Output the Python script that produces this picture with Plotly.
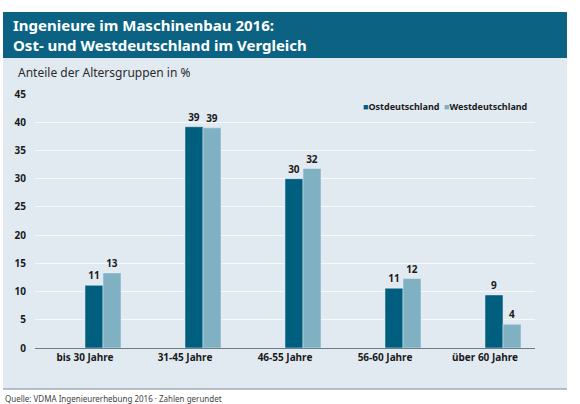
import plotly.graph_objects as go

categories = ["bis 30 Jahre", "31-45 Jahre", "46-55 Jahre", "56-60 Jahre", "über 60 Jahre"]
ost = [11.1, 39.2, 30.0, 10.6, 9.4]
west = [13.3, 39.0, 31.8, 12.3, 4.2]
y_ticks = [0, 5, 10, 15, 20, 25, 30, 35, 40, 45]

C_OST = "#005f7f"
C_WEST = "#7fb1c3"
C_HEAD = "#0b6282"
C_PANEL = "#e2eaf1"

# pixel helpers (plot area: x 35..535, y 94..348 in a 580x404 page)
L, R, T, B = 35, 45, 94, 56
PW, PH = 580 - L - R, 404 - T - B
def px(x): return (x - L) / PW
def py(y): return (404 - B - y) / PH

fig = go.Figure()
fig.add_trace(go.Bar(
    x=categories, y=ost, name="Ostdeutschland", marker_color=C_OST,
    offset=0.0, width=0.18,
    text=[f"{v:.0f}" for v in ost], textposition="outside",
    textfont=dict(size=10, color="#1a1a1a", family="Noto Sans", weight="bold"),
    cliponaxis=False, showlegend=False,
))
fig.add_trace(go.Bar(
    x=categories, y=west, name="Westdeutschland", marker_color=C_WEST,
    offset=0.18, width=0.18,
    text=[f"{v:.0f}" for v in west], textposition="outside",
    textfont=dict(size=10, color="#1a1a1a", family="Noto Sans", weight="bold"),
    cliponaxis=False, showlegend=False,
))

shapes = [
    dict(type="rect", xref="paper", yref="paper", x0=px(3), x1=px(567), y0=py(389), y1=py(58),
         fillcolor=C_PANEL, line_width=0, layer="below"),
    dict(type="rect", xref="paper", yref="paper", x0=px(3), x1=px(567), y0=py(58), y1=py(12),
         fillcolor=C_HEAD, line_width=0, layer="below"),
    dict(type="line", xref="paper", yref="paper", x0=px(3), x1=px(567), y0=py(389), y1=py(389),
         line=dict(color="#7d8a94", width=1.2)),
]

annotations = [
    dict(xref="paper", yref="paper", x=px(11), y=py(35), xanchor="left", yanchor="middle",
         text="Ingenieure im Maschinenbau 2016:<br>Ost- und Westdeutschland im Vergleich",
         showarrow=False, align="left",
         font=dict(family="Noto Sans", size=15, color="white", weight="bold")),
    dict(xref="paper", yref="paper", x=px(16), y=py(73), xanchor="left", yanchor="middle",
         text="Anteile der Altersgruppen in %", showarrow=False,
         font=dict(family="Noto Sans", size=12, color="#2a2a2a")),
    dict(xref="paper", yref="paper", x=px(361), y=py(106), xanchor="left", yanchor="middle",
         text=f"<span style='color:{C_OST}'>■</span>Ostdeutschland  "
              f"<span style='color:{C_WEST}'>■</span>Westdeutschland",
         showarrow=False,
         font=dict(family="Noto Sans", size=9, color="#1a1a1a", weight="bold")),
    dict(xref="paper", yref="paper", x=px(3), y=py(391), xanchor="left", yanchor="top",
         text="Quelle: VDMA Ingenieurerhebung 2016 · Zahlen gerundet", showarrow=False,
         font=dict(family="Noto Sans", size=8, color="#444444")),
]

fig.update_layout(
    width=580, height=404,
    margin=dict(l=L, r=R, t=T, b=B),
    paper_bgcolor="white", plot_bgcolor="rgba(0,0,0,0)",
    barmode="overlay",
    shapes=shapes, annotations=annotations,
    xaxis=dict(range=[-0.5, 4.5], showgrid=False, showline=True, linecolor="#6f7c86", linewidth=1,
               ticks="", tickfont=dict(family="Noto Sans", size=10, color="#1a1a1a", weight="bold")),
    yaxis=dict(range=[0, 45], tickvals=y_ticks, showgrid=True, gridcolor="rgba(255,255,255,0.7)",
               gridwidth=1, zeroline=False, showline=False, ticks="",
               tickfont=dict(family="Noto Sans", size=10, color="#1a1a1a", weight="bold"),
               ticklabelstandoff=8),
)

fig.write_html("out.html")
